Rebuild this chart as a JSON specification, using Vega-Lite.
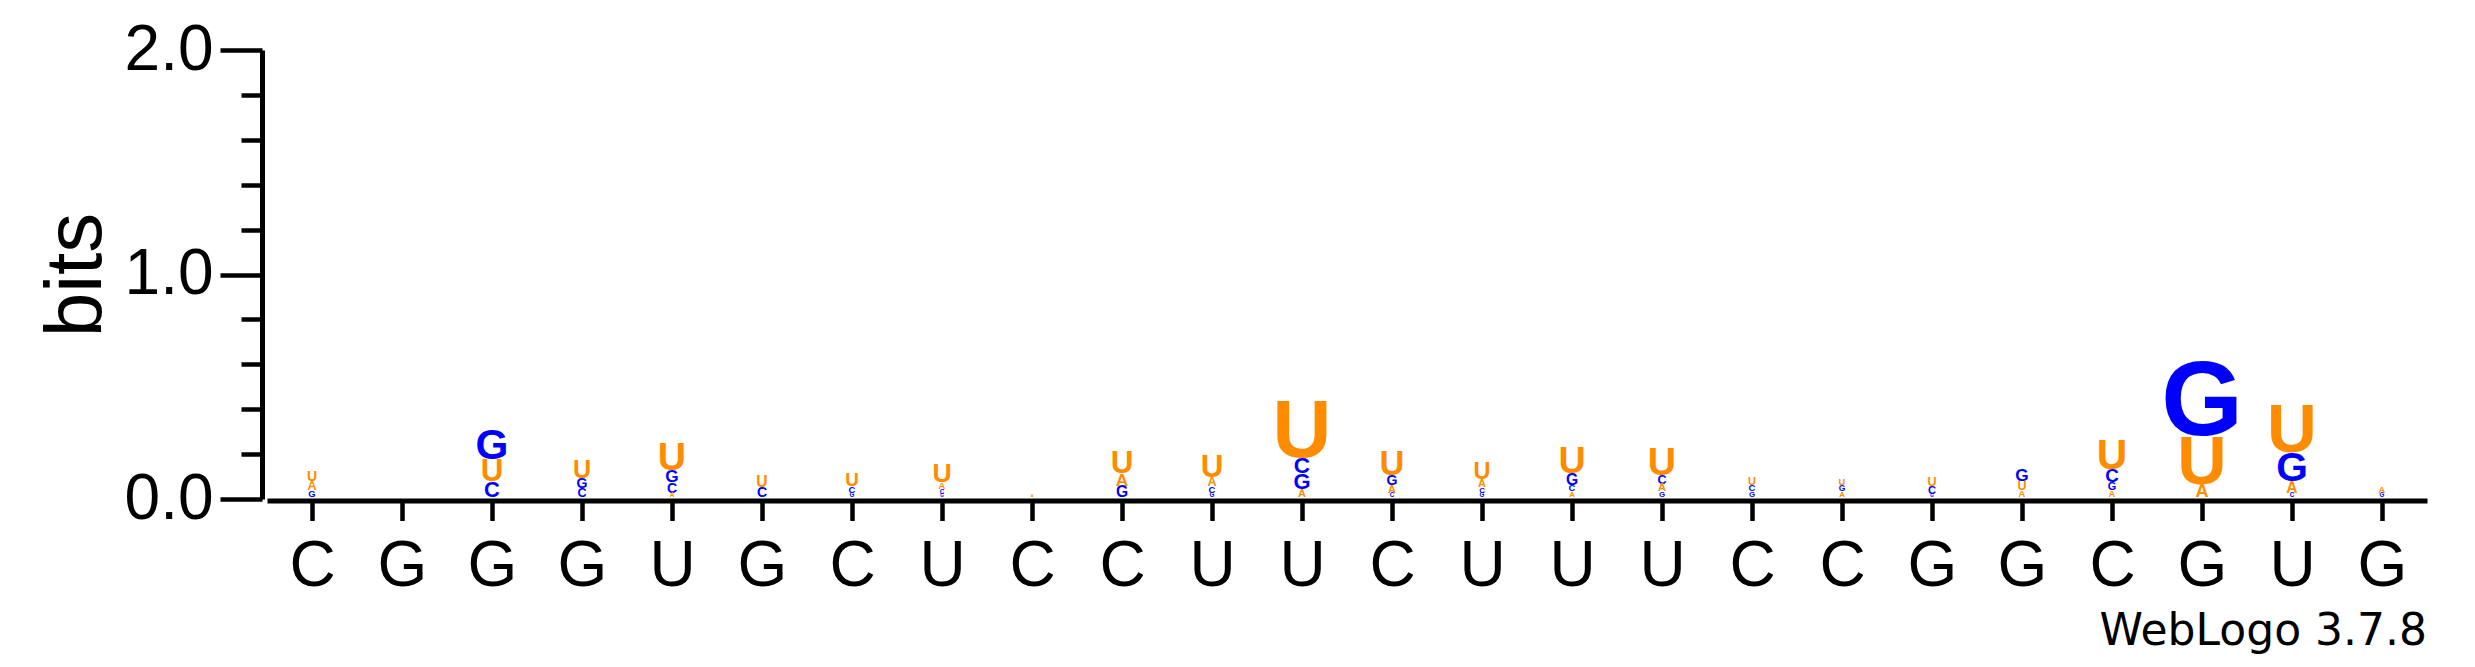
{
  "$schema": "https://vega.github.io/schema/vega-lite/v6.json",
  "width": 2160,
  "height": 449,
  "autosize": {"type": "none"},
  "padding": {"left": 267, "top": 50, "right": 48, "bottom": 168},
  "background": "white",
  "config": {"view": {"stroke": null}, "font": "Liberation Sans"},
  "title": {"text": "WebLogo 3.7.8", "orient": "bottom", "anchor": "end", "fontSize": 44, "fontWeight": "normal", "font": "DejaVu Sans", "color": "black", "offset": 11},
  "data": {"values": [
    {"pos": 1, "base": "G", "h": 0.03}, {"pos": 1, "base": "A", "h": 0.04}, {"pos": 1, "base": "U", "h": 0.045},
    {"pos": 3, "base": "C", "h": 0.07}, {"pos": 3, "base": "U", "h": 0.10}, {"pos": 3, "base": "G", "h": 0.135},
    {"pos": 4, "base": "C", "h": 0.04}, {"pos": 4, "base": "G", "h": 0.045}, {"pos": 4, "base": "U", "h": 0.08},
    {"pos": 5, "base": "A", "h": 0.02}, {"pos": 5, "base": "C", "h": 0.045}, {"pos": 5, "base": "G", "h": 0.055}, {"pos": 5, "base": "U", "h": 0.125},
    {"pos": 6, "base": "C", "h": 0.045}, {"pos": 6, "base": "U", "h": 0.05},
    {"pos": 7, "base": "G", "h": 0.02}, {"pos": 7, "base": "C", "h": 0.03}, {"pos": 7, "base": "U", "h": 0.06},
    {"pos": 8, "base": "G", "h": 0.015}, {"pos": 8, "base": "C", "h": 0.02}, {"pos": 8, "base": "A", "h": 0.03}, {"pos": 8, "base": "U", "h": 0.085},
    {"pos": 9, "base": "A", "h": 0.012},
    {"pos": 10, "base": "G", "h": 0.05}, {"pos": 10, "base": "A", "h": 0.055}, {"pos": 10, "base": "U", "h": 0.10},
    {"pos": 11, "base": "G", "h": 0.02}, {"pos": 11, "base": "C", "h": 0.03}, {"pos": 11, "base": "A", "h": 0.04}, {"pos": 11, "base": "U", "h": 0.10},
    {"pos": 12, "base": "A", "h": 0.035}, {"pos": 12, "base": "G", "h": 0.07}, {"pos": 12, "base": "C", "h": 0.072}, {"pos": 12, "base": "U", "h": 0.26},
    {"pos": 13, "base": "C", "h": 0.02}, {"pos": 13, "base": "A", "h": 0.035}, {"pos": 13, "base": "G", "h": 0.045}, {"pos": 13, "base": "U", "h": 0.11},
    {"pos": 14, "base": "G", "h": 0.02}, {"pos": 14, "base": "C", "h": 0.025}, {"pos": 14, "base": "A", "h": 0.035}, {"pos": 14, "base": "U", "h": 0.075},
    {"pos": 15, "base": "A", "h": 0.025}, {"pos": 15, "base": "C", "h": 0.03}, {"pos": 15, "base": "G", "h": 0.05}, {"pos": 15, "base": "U", "h": 0.12},
    {"pos": 16, "base": "G", "h": 0.025}, {"pos": 16, "base": "A", "h": 0.035}, {"pos": 16, "base": "C", "h": 0.04}, {"pos": 16, "base": "U", "h": 0.125},
    {"pos": 17, "base": "G", "h": 0.025}, {"pos": 17, "base": "C", "h": 0.03}, {"pos": 17, "base": "U", "h": 0.035},
    {"pos": 18, "base": "A", "h": 0.025}, {"pos": 18, "base": "G", "h": 0.027}, {"pos": 18, "base": "U", "h": 0.03},
    {"pos": 19, "base": "G", "h": 0.015}, {"pos": 19, "base": "C", "h": 0.035}, {"pos": 19, "base": "U", "h": 0.04},
    {"pos": 20, "base": "A", "h": 0.03}, {"pos": 20, "base": "U", "h": 0.04}, {"pos": 20, "base": "G", "h": 0.055},
    {"pos": 21, "base": "A", "h": 0.03}, {"pos": 21, "base": "G", "h": 0.035}, {"pos": 21, "base": "C", "h": 0.06}, {"pos": 21, "base": "U", "h": 0.135},
    {"pos": 22, "base": "A", "h": 0.058}, {"pos": 22, "base": "U", "h": 0.218}, {"pos": 22, "base": "G", "h": 0.335},
    {"pos": 23, "base": "C", "h": 0.02}, {"pos": 23, "base": "A", "h": 0.05}, {"pos": 23, "base": "G", "h": 0.13}, {"pos": 23, "base": "U", "h": 0.22},
    {"pos": 24, "base": "G", "h": 0.02}, {"pos": 24, "base": "A", "h": 0.03}
  ]},
  "transform": [
    {"stack": "h", "groupby": ["pos"], "sort": [{"field": "h", "order": "ascending"}], "as": ["y0", "y1"]}
  ],
  "encoding": {
    "x": {
      "field": "pos", "type": "ordinal",
      "scale": {"type": "point", "domain": [1,2,3,4,5,6,7,8,9,10,11,12,13,14,15,16,17,18,19,20,21,22,23,24], "padding": 0.5},
      "axis": {
        "title": null, "orient": "bottom", "offset": 1.5,
        "domain": true, "domainColor": "black", "domainWidth": 5,
        "ticks": true, "tickColor": "black", "tickSize": 20, "tickWidth": 4.5,
        "labelAngle": 0, "labelFont": "Liberation Sans", "labelFontSize": 64, "labelColor": "black", "labelPadding": 14,
        "labelExpr": "substring('CGGGUGCUCCUUCUUUCCGGCGUG', datum.value - 1, datum.value)",
        "grid": false
      }
    },
    "color": {
      "field": "base", "type": "nominal",
      "scale": {"domain": ["A", "C", "G", "U"], "range": ["#FF8C00", "#0000FF", "#0000FF", "#FF8C00"]},
      "legend": null
    },
    "size": {
      "field": "h", "type": "quantitative",
      "scale": {"type": "linear", "domain": [0, 1], "range": [0, 313.5], "zero": true},
      "legend": null
    },
    "text": {"field": "base", "type": "nominal"}
  },
  "layer": [
    {
      "transform": [{"filter": "datum.base === 'C' || datum.base === 'G'"}],
      "mark": {"type": "text", "baseline": "alphabetic", "align": "center", "font": "Liberation Sans", "fontWeight": "bold", "dy": -2},
      "encoding": {
        "y": {
          "field": "y0", "type": "quantitative",
          "scale": {"domain": [0, 2], "nice": false, "zero": true},
          "axis": {
            "orient": "left", "offset": 5, "values": [0, 1, 2], "format": ".1f",
            "domain": true, "domainColor": "black", "domainWidth": 5,
            "ticks": true, "tickColor": "black", "tickSize": 42, "tickWidth": 4.5,
            "labelFont": "Liberation Sans", "labelFontSize": 64, "labelColor": "black", "labelPadding": 7,
            "grid": false,
            "title": "bits", "titleFont": "Liberation Sans", "titleFontSize": 80, "titleFontWeight": "normal", "titleColor": "black", "titlePadding": 7
          }
        }
      }
    },
    {
      "transform": [{"filter": "datum.base === 'A' || datum.base === 'U'"}],
      "mark": {"type": "text", "baseline": "alphabetic", "align": "center", "font": "Liberation Sans", "fontWeight": "bold", "dy": -2},
      "encoding": {
        "y": {
          "field": "y0", "type": "quantitative",
          "scale": {"domain": [0, 2], "nice": false, "zero": true},
          "axis": {
            "orient": "left", "offset": 5, "values": [0.2, 0.4, 0.6, 0.8, 1.2, 1.4, 1.6, 1.8],
            "domain": false, "ticks": true, "tickColor": "black", "tickSize": 21, "tickWidth": 4.5,
            "labels": false, "grid": false, "title": null
          }
        }
      }
    }
  ],
  "resolve": {"axis": {"y": "independent"}}
}
